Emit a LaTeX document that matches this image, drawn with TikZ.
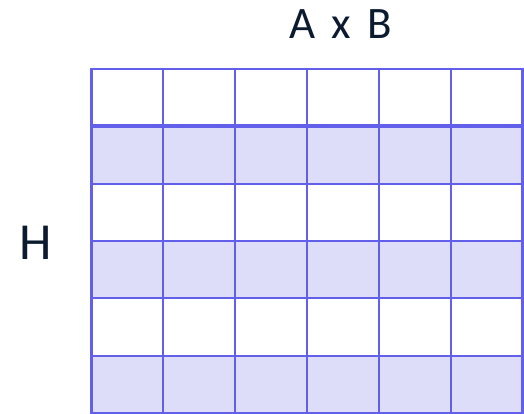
\documentclass[tikz,border=0pt]{standalone}
\usepackage{fontspec}
\setmainfont{Carlito}
\definecolor{gridline}{RGB}{98,96,234}
\definecolor{gridfill}{RGB}{221,221,249}
\definecolor{labeltext}{RGB}{12,26,48}
\begin{document}
\begin{tikzpicture}[x=1pt,y=-1pt,
  gridstroke/.style={draw=gridline,line width=2.2pt},
  label/.style={text=labeltext,inner sep=0pt,anchor=center}]
\useasboundingbox (0,0) rectangle (524,414);
\def\gl{91.5}\def\gr{522.5}\def\gt{69}\def\gb{413}
\pgfmathsetmacro{\rh}{(\gb-\gt)/6}
\pgfmathsetmacro{\cw}{(\gr-\gl)/6}
% shaded rows 2,4,6
\foreach \r in {1,3,5}{
  \fill[gridfill] (\gl,{\gt+\r*\rh}) rectangle (\gr,{\gt+(\r+1)*\rh});
}
% horizontal lines
\foreach \r in {0,...,6}{
  \draw[gridstroke] (\gl-1.1,{\gt+\r*\rh}) -- (\gr+1.1,{\gt+\r*\rh});
}
% vertical lines
\foreach \c in {0,...,6}{
  \draw[gridstroke] ({\gl+\c*\cw},\gt-1.1) -- ({\gl+\c*\cw},\gb+1.1);
}
% thick header line
\draw[draw=gridline,line width=4pt] (\gl-1.1,{\gt+\rh}) -- (\gr+1.1,{\gt+\rh});
\node[label,font=\fontsize{45}{48}\selectfont] (axb) at (341,24) {A\hspace{5pt} x\hspace{7pt} B};
\node[label,font=\fontsize{52}{56}\selectfont] (h) at (35.5,243) {H};
\end{tikzpicture}
\end{document}
